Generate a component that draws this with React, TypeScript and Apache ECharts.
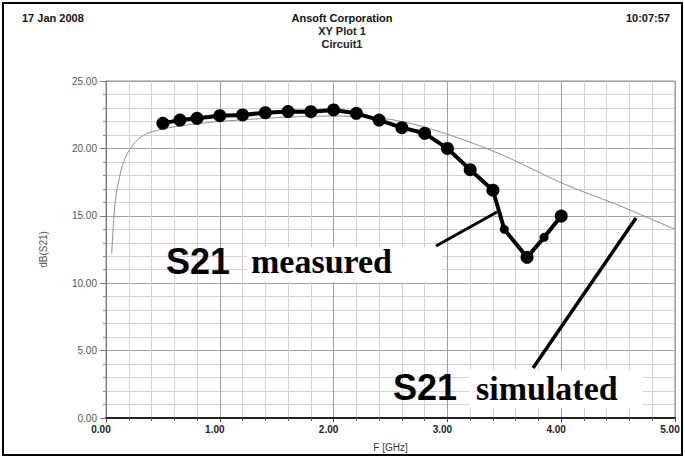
import React, { useEffect, useRef } from "react";
import * as echarts from "echarts";

const measuredF = [0.5, 0.65, 0.8, 1.0, 1.2, 1.4, 1.6, 1.8, 2.0, 2.2, 2.4, 2.6, 2.8, 3.0, 3.2, 3.4, 3.5, 3.7, 3.85, 4.0];
const measuredDb = [21.86, 22.1, 22.23, 22.43, 22.48, 22.65, 22.73, 22.72, 22.85, 22.6, 22.1, 21.54, 21.12, 20.0, 18.42, 16.9, 14.0, 11.92, 13.4, 14.98];

const simF = [0.05, 0.065, 0.08, 0.095, 0.11, 0.13, 0.15, 0.18, 0.21, 0.25, 0.3, 0.36, 0.43, 0.5, 0.6, 0.75, 1.0, 1.25, 1.5, 1.75, 2.0, 2.25, 2.5, 2.75, 3.0, 3.25, 3.5, 3.75, 4.0, 4.25, 4.5, 4.75, 5.0];
const simDb = [12.2, 14.4, 16.0, 16.9, 17.5, 18.3, 18.9, 19.5, 19.95, 20.4, 20.8, 21.1, 21.3, 21.45, 21.6, 21.78, 22.0, 22.15, 22.28, 22.37, 22.4, 22.35, 22.15, 21.7, 21.05, 20.3, 19.45, 18.45, 17.45, 16.6, 15.8, 14.9, 14.0];

const headerLeft = "17 Jan 2008";
const headerTitle = "Ansoft Corporation";
const headerSub1 = "XY Plot 1";
const headerSub2 = "Circuit1";
const headerRight = "10:07:57";
const xName = "F [GHz]";
const yName = "dB(S21)";

export default function App() {
  const ref = useRef<HTMLDivElement>(null);
  useEffect(() => {
    if (!ref.current) return;
    const chart = echarts.init(ref.current, undefined, { renderer: "svg" });
    const smallIdx = [16, 18];
    const sans = "Liberation Sans, Arial, sans-serif";
    const serif = "Liberation Serif, Times New Roman, serif";
    chart.setOption({
      animation: false,
      backgroundColor: "#ffffff",
      grid: { left: 106, right: 10, top: 81, bottom: 40, show: true, borderColor: "#8a8a8a", borderWidth: 1 },
      xAxis: {
        type: "value",
        min: 0,
        max: 5,
        interval: 1,
        name: xName,
        nameLocation: "middle",
        nameGap: 24,
        nameTextStyle: { fontFamily: sans, fontSize: 10, color: "#333" },
        axisLine: { show: true, onZero: false, lineStyle: { color: "#222", width: 2 } },
        axisTick: { show: true, length: 4, lineStyle: { color: "#444" } },
        minorTick: { show: true, splitNumber: 5, length: 3, lineStyle: { color: "#666" } },
        axisLabel: { formatter: (v: number) => v.toFixed(2), fontFamily: sans, fontSize: 10, fontWeight: "bold", color: "#222", margin: 6, padding: [0, 10, 0, 0] },
        splitLine: { show: true, lineStyle: { color: "#a0a0a0", width: 1 } },
        minorSplitLine: { show: true, lineStyle: { color: "#d2d2d2", width: 1 } },
      },
      yAxis: {
        type: "value",
        min: 0,
        max: 25,
        interval: 5,
        name: yName,
        nameLocation: "middle",
        nameGap: 58,
        nameTextStyle: { fontFamily: sans, fontSize: 10, color: "#555" },
        axisLine: { show: true, lineStyle: { color: "#777", width: 1 } },
        axisTick: { show: true, length: 6, lineStyle: { color: "#777" } },
        minorTick: { show: true, splitNumber: 5, length: 3, lineStyle: { color: "#888" } },
        axisLabel: { formatter: (v: number) => v.toFixed(2), fontFamily: sans, fontSize: 10, color: "#555", margin: 9 },
        splitLine: { show: true, lineStyle: { color: "#a0a0a0", width: 1 } },
        minorSplitLine: { show: true, lineStyle: { color: "#d2d2d2", width: 1 } },
      },
      series: [
        {
          name: "S21 simulated",
          type: "line",
          data: simF.map((f, i) => [f, simDb[i]]),
          showSymbol: false,
          smooth: 0.2,
          lineStyle: { color: "#8c8c8c", width: 1 },
          z: 2,
        },
        {
          name: "S21 measured",
          type: "line",
          data: measuredF.map((f, i) => [f, measuredDb[i]]),
          symbol: "circle",
          symbolSize: (_v: any, p: any) => (smallIdx.includes(p.dataIndex) ? 9 : 13),
          itemStyle: { color: "#000" },
          lineStyle: { color: "#000", width: 4 },
          z: 3,
        },
      ],
      graphic: [
        { type: "rect", z: 100, shape: { x: 3, y: 3, width: 679, height: 452 }, style: { fill: "none", stroke: "#000", lineWidth: 2 } },
        { type: "text", z: 100, x: 22, y: 18, style: { text: headerLeft, font: `bold 11px ${sans}`, fill: "#111", verticalAlign: "middle" } },
        { type: "text", z: 100, x: 342, y: 18, style: { text: headerTitle, font: `bold 11px ${sans}`, fill: "#111", align: "center", verticalAlign: "middle" } },
        { type: "text", z: 100, x: 342, y: 31, style: { text: headerSub1, font: `bold 11px ${sans}`, fill: "#222", align: "center", verticalAlign: "middle" } },
        { type: "text", z: 100, x: 342, y: 44, style: { text: headerSub2, font: `bold 11px ${sans}`, fill: "#222", align: "center", verticalAlign: "middle" } },
        { type: "text", z: 100, x: 670, y: 18, style: { text: headerRight, font: `bold 11px ${sans}`, fill: "#111", align: "right", verticalAlign: "middle" } },
        { type: "rect", z: 100, shape: { x: 247, y: 247, width: 195, height: 35 }, style: { fill: "#fff" } },
        { type: "text", z: 101, x: 166, y: 261, style: { text: "S21", font: `bold 36px ${sans}`, fill: "#000", verticalAlign: "middle" } },
        { type: "text", z: 101, x: 251, y: 261, style: { text: "measured", font: `bold 34px ${serif}`, fill: "#000", verticalAlign: "middle" } },
        { type: "rect", z: 100, shape: { x: 469, y: 370, width: 174, height: 38 }, style: { fill: "#fff" } },
        { type: "text", z: 101, x: 393, y: 387, style: { text: "S21", font: `bold 36px ${sans}`, fill: "#000", verticalAlign: "middle" } },
        { type: "text", z: 101, x: 476, y: 388, style: { text: "simulated", font: `bold 34px ${serif}`, fill: "#000", verticalAlign: "middle" } },
        { type: "line", z: 101, shape: { x1: 436, y1: 246, x2: 497, y2: 212 }, style: { stroke: "#000", lineWidth: 3 } },
        { type: "line", z: 101, shape: { x1: 636, y1: 218, x2: 533, y2: 368 }, style: { stroke: "#000", lineWidth: 3.5 } },
      ],
    });
    return () => chart.dispose();
  }, []);
  return (
    <div
      ref={ref}
      style={{ position: "fixed", left: 0, top: 0, width: 685, height: 458, background: "#fff" }}
    />
  );
}
